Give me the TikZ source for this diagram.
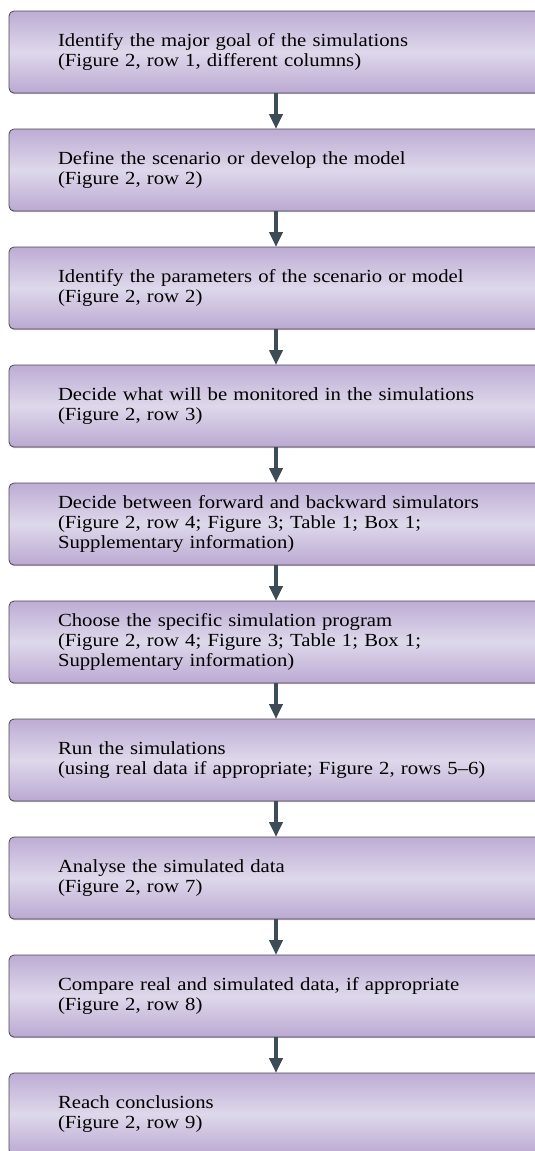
\documentclass[tikz,border=0pt]{standalone}
\usepackage{fontspec}
\setmainfont{Liberation Serif}[FakeStretch=1.12]
\usepackage{xcolor}
\usepackage{tikz}
\usetikzlibrary{arrows.meta, positioning, shadows}
\definecolor{simtop}{HTML}{BDACD4}
\definecolor{simmid}{HTML}{DED8EB}
\definecolor{simbottom}{HTML}{BBA9D2}
\definecolor{simborder}{HTML}{4A4650}
\definecolor{simarrow}{HTML}{3D4D58}
\tikzset{
    stepbox/.style={rectangle, rounded corners=5pt, draw=simborder, line width=0.8pt,
        top color=simtop, bottom color=simbottom, middle color=simmid,
        drop shadow={shadow xshift=0.4pt, shadow yshift=-1.2pt, opacity=0.5},
        minimum height=82pt, text width=436pt, inner xsep=49pt, inner ysep=0pt, outer sep=0pt,
        align=left, font=\fontsize{18.5}{20.3}\selectfont},
    steparrow/.style={draw=simarrow, line width=4.5pt, -{Triangle[length=15pt, width=13pt]}}
}

\begin{document}
\begin{tikzpicture}
    \useasboundingbox (0,0) rectangle (535pt,-1151pt);
    % Simulation steps
    \node[stepbox] (goal) at (276pt,-52pt) {Identify the major goal of the simulations\\(Figure 2, row 1, different columns)};
    \node[stepbox, below=36pt of goal] (model) {Define the scenario or develop the model\\(Figure 2, row 2)};
    \node[stepbox, below=36pt of model] (params) {Identify the parameters of the scenario or model\\(Figure 2, row 2)};
    \node[stepbox, below=36pt of params] (monitor) {Decide what will be monitored in the simulations\\(Figure 2, row 3)};
    \node[stepbox, below=36pt of monitor] (direction) {Decide between forward and backward simulators\\(Figure 2, row 4; Figure 3; Table 1; Box 1;\\Supplementary information)};
    \node[stepbox, below=36pt of direction] (program) {Choose the specific simulation program\\(Figure 2, row 4; Figure 3; Table 1; Box 1;\\Supplementary information)};
    \node[stepbox, below=36pt of program] (run) {Run the simulations\\(using real data if appropriate; Figure 2, rows \mbox{5–6})};
    \node[stepbox, below=36pt of run] (analyse) {Analyse the simulated data\\(Figure 2, row 7)};
    \node[stepbox, below=36pt of analyse] (compare) {Compare real and simulated data, if appropriate\\(Figure 2, row 8)};
    \node[stepbox, below=36pt of compare] (conclude) {Reach conclusions\\(Figure 2, row 9)};

    % Arrows between steps
    \draw[steparrow] (goal) -- (model);
    \draw[steparrow] (model) -- (params);
    \draw[steparrow] (params) -- (monitor);
    \draw[steparrow] (monitor) -- (direction);
    \draw[steparrow] (direction) -- (program);
    \draw[steparrow] (program) -- (run);
    \draw[steparrow] (run) -- (analyse);
    \draw[steparrow] (analyse) -- (compare);
    \draw[steparrow] (compare) -- (conclude);
\end{tikzpicture}
\end{document}
